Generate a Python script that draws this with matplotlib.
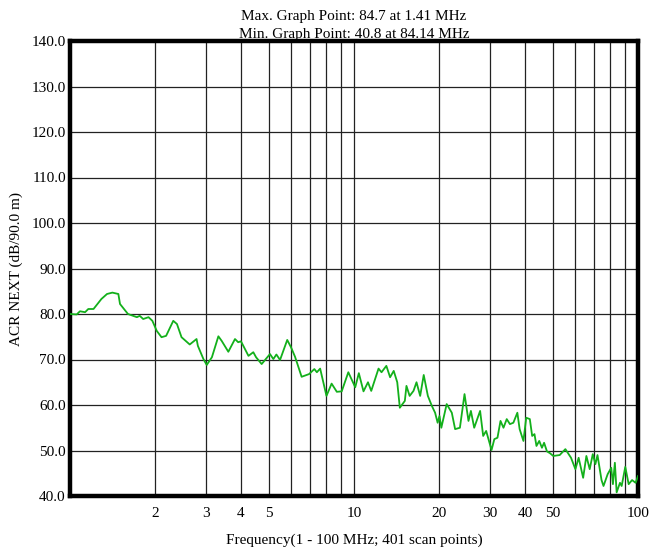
import numpy as np
import matplotlib
matplotlib.use("Agg")
import matplotlib.pyplot as plt
from matplotlib.ticker import FixedLocator, NullFormatter

plt.rcParams["font.family"] = ["Liberation Serif", "DejaVu Serif"]

# ACR NEXT trace (MHz, dB)
freq = [1.00, 1.056, 1.084, 1.13, 1.16, 1.21, 1.29, 1.35, 1.41, 1.48, 1.50,
        1.60, 1.72, 1.76, 1.81, 1.89, 1.95, 2.02, 2.10, 2.18, 2.31, 2.38,
        2.47, 2.64, 2.79, 2.82, 2.95, 3.03, 3.16, 3.33, 3.42, 3.61, 3.81,
        3.91, 4.00, 4.25, 4.42, 4.52, 4.73, 5.06, 5.20, 5.33, 5.49, 5.82,
        6.00, 6.20, 6.54, 6.95, 7.25, 7.40, 7.60, 8.00, 8.34, 8.70, 9.05,
        9.55, 10.1, 10.4, 10.8, 11.2, 11.5, 12.2, 12.5, 13.0, 13.4, 13.8,
        14.2, 14.5, 15.1, 15.3, 15.7, 16.2, 16.6, 17.1, 17.6, 18.2, 18.8,
        19.3, 19.7, 20.0, 20.3, 21.2, 22.1, 22.7, 23.6, 24.5, 25.3, 25.8,
        26.5, 27.8, 28.5, 29.2, 30.5, 31.2, 32.0, 32.8, 33.6, 34.5, 35.4,
        36.4, 37.6, 38.3, 39.5, 40.4, 41.6, 42.4, 43.2, 43.9, 44.9, 45.9,
        46.7, 47.8, 49.0, 50.3, 53.0, 55.5, 58.1, 60.2, 61.8, 64.1, 65.8,
        67.6, 69.3, 70.8, 72.0, 73.2, 74.4, 75.6, 78.2, 80.5, 81.6, 82.9,
        84.1, 86.4, 87.6, 90.2, 92.7, 95.3, 98.1, 100.0]
acr = [80.0, 79.9, 80.6, 80.4, 81.1, 81.1, 83.3, 84.4, 84.7, 84.4, 82.2,
       80.0, 79.3, 79.6, 78.9, 79.3, 78.5, 76.3, 74.9, 75.2, 78.5, 77.8,
       74.9, 73.3, 74.5, 73.0, 70.1, 68.8, 70.5, 75.1, 74.1, 71.7, 74.5,
       73.8, 74.0, 70.8, 71.6, 70.5, 69.0, 71.2, 70.1, 71.1, 69.9, 74.3,
       72.7, 70.6, 66.2, 66.8, 67.9, 67.2, 68.0, 62.0, 64.7, 62.9, 63.0,
       67.2, 63.9, 67.0, 63.0, 65.0, 63.1, 68.0, 67.2, 68.6, 66.1, 67.5,
       65.0, 59.4, 60.9, 64.2, 62.0, 63.1, 65.0, 62.0, 66.6, 62.0, 59.8,
       58.3, 56.1, 57.6, 55.0, 60.2, 58.3, 54.7, 55.0, 62.4, 56.5, 58.7,
       55.0, 58.7, 53.2, 54.3, 50.1, 52.5, 52.8, 56.5, 55.0, 56.9, 55.8,
       56.1, 58.3, 54.7, 52.1, 57.2, 56.9, 53.2, 53.6, 51.0, 52.1, 50.6,
       51.7, 49.8, 49.4, 48.8, 49.0, 50.3, 48.4, 45.9, 48.4, 44.0, 48.8,
       45.9, 49.2, 47.0, 49.0, 46.2, 43.5, 42.2, 44.8, 46.2, 42.6, 47.3,
       40.8, 42.9, 42.2, 46.4, 42.6, 43.5, 42.9, 44.4]

x_major = [1, 2, 3, 4, 5, 6, 7, 8, 9, 10, 20, 30, 40, 50, 60, 70, 80, 90, 100]
x_labels = {2: "2", 3: "3", 4: "4", 5: "5", 10: "10", 20: "20", 30: "30",
            40: "40", 50: "50", 100: "100"}
y_ticks = np.arange(40, 141, 10)

fig = plt.figure(figsize=(6.64, 5.53), dpi=100)
ax = fig.add_axes([70 / 664, 1 - 496 / 553, 568 / 664, 455 / 553])

ax.plot(freq, acr, color="#13b01b", lw=1.3, zorder=3)

ax.set_xscale("log")
ax.set_xlim(1, 100)
ax.set_ylim(40, 140)
ax.xaxis.set_major_locator(FixedLocator(x_major))
ax.xaxis.set_minor_formatter(NullFormatter())
ax.set_xticks(x_major)
ax.set_xticklabels([x_labels.get(v, "") for v in x_major])
ax.set_yticks(y_ticks)
ax.set_yticklabels(["%.1f" % v for v in y_ticks])
ax.tick_params(axis="both", length=0, labelsize=11, pad=3)
ax.tick_params(axis="x", pad=8)
ax.grid(True, which="major", color="#222222", lw=0.9)

for s in ax.spines.values():
    s.set_linewidth(3.2)

ax.set_xlabel("Frequency(1 - 100 MHz; 401 scan points)", fontsize=11, labelpad=10)
ax.set_ylabel("ACR NEXT (dB/90.0 m)", fontsize=11, labelpad=6)
ax.set_title("Max. Graph Point: 84.7 at 1.41 MHz\nMin. Graph Point: 40.8 at 84.14 MHz",
             fontsize=11, linespacing=1.5, pad=0)

plt.savefig("out.png", dpi=100)
